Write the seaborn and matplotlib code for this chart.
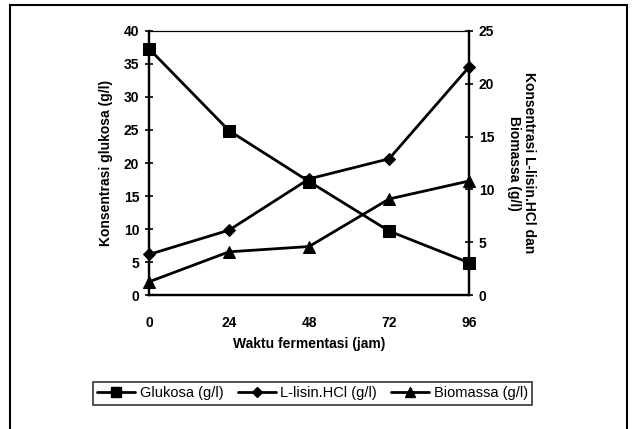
import matplotlib
matplotlib.use("Agg")
import matplotlib.pyplot as plt
from matplotlib.patches import Rectangle
from matplotlib.lines import Line2D
import seaborn as sns

# data
jam = [0, 24, 48, 72, 96]
glukosa = [37.3, 24.9, 17.2, 9.7, 4.9]       # left axis
lisin = [3.85, 6.15, 11.0, 12.9, 21.6]       # right axis
biomassa = [1.26, 4.1, 4.6, 9.1, 10.8]       # right axis
x_ticks = [0, 24, 48, 72, 96]

sns.set_style("white")
plt.rcParams["font.family"] = ["Liberation Sans", "DejaVu Sans"]
plt.rcParams["text.color"] = "black"
plt.rcParams["axes.labelcolor"] = "black"
plt.rcParams["xtick.color"] = "black"
plt.rcParams["ytick.color"] = "black"

fig = plt.figure(figsize=(6.34, 4.29), dpi=100)
ax = fig.add_axes([0.235, 0.312, 0.505, 0.616])
ax2 = ax.twinx()

lw = 2.0
sns.lineplot(x=jam, y=glukosa, ax=ax, color="black", marker="s",
             markersize=8.5, linewidth=lw, markeredgecolor="black", clip_on=False)
sns.lineplot(x=jam, y=lisin, ax=ax2, color="black", marker="D",
             markersize=6.5, linewidth=lw, markeredgecolor="black", clip_on=False)
sns.lineplot(x=jam, y=biomassa, ax=ax2, color="black", marker="^",
             markersize=8, linewidth=lw, markeredgecolor="black", clip_on=False)

ax.set_xlim(0, 96)
ax.set_ylim(0, 40)
ax2.set_ylim(0, 25)
ax.set_xticks(x_ticks)
ax.set_yticks(range(0, 41, 5))
ax2.set_yticks(range(0, 26, 5))

for a in (ax, ax2):
    for s in a.spines.values():
        s.set_color("black")
        s.set_linewidth(1.6)
    a.spines["top"].set_linewidth(0.8)
    a.tick_params(direction="inout", length=6, width=1.2, colors="black")
ax.tick_params(axis="x", pad=12, labelsize=10)
ax.tick_params(axis="y", pad=4, labelsize=10, left=True)
ax2.tick_params(axis="y", pad=4, labelsize=10, right=True)
for lab in ax.get_xticklabels() + ax.get_yticklabels() + ax2.get_yticklabels():
    lab.set_fontweight("bold")

ax.set_xlabel("Waktu fermentasi (jam)", fontsize=10, fontweight="bold", labelpad=5)
ax.set_ylabel("Konsentrasi glukosa (g/l)", fontsize=10, fontweight="bold", labelpad=8)
ax2.set_ylabel("Konsentrasi L-lisin.HCl dan\nBiomassa (g/l)", fontsize=10,
               fontweight="bold", rotation=270, labelpad=30, linespacing=1.1)

handles = [
    Line2D([], [], color="black", lw=lw, marker="s", markersize=6.5),
    Line2D([], [], color="black", lw=lw, marker="D", markersize=5),
    Line2D([], [], color="black", lw=lw, marker="^", markersize=6.5),
]
labels = ["Glukosa (g/l)", "L-lisin.HCl (g/l)", "Biomassa (g/l)"]
leg = fig.legend(handles, labels, loc="center", bbox_to_anchor=(0.493, 0.083),
                 ncol=3, frameon=True, fancybox=False, fontsize=10.5,
                 handlelength=2.6, handletextpad=0.3, columnspacing=1.0,
                 borderpad=0.3, edgecolor="black")
leg.get_frame().set_linewidth(1.2)

# outer frame (open at bottom like the scan)
fig.patches.append(Rectangle((0.016, -0.05), 0.973, 1.038, transform=fig.transFigure,
                             fill=False, edgecolor="black", linewidth=1.5))

fig.savefig("out.png", dpi=100)
